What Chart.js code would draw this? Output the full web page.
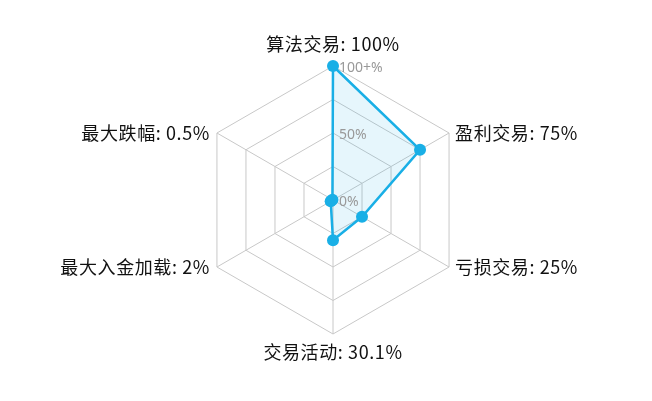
<!DOCTYPE html>
<html>
<head>
<meta charset="utf-8">
<script src="https://cdn.jsdelivr.net/npm/chart.js@4"></script>
<style>
  html, body { margin: 0; padding: 0; background: #fff; }
  #wrap { width: 652px; height: 401px; position: relative; }
</style>
</head>
<body>
<div id="wrap"><canvas id="c"></canvas></div>
<script>
const categories = ['算法交易', '盈利交易', '亏损交易', '交易活动', '最大入金加载', '最大跌幅'];
const values = [100, 75, 25, 30.1, 2, 0.5];
const valueLabels = ['100%', '75%', '25%', '30.1%', '2%', '0.5%'];
const tickValues = [0, 50, 100];
const tickLabels = ['0%', '50%', '100+%'];

const labelFont = '18px "Noto Sans CJK SC", "Noto Sans", sans-serif';
const tickFont = '14px "Noto Sans", "Noto Sans CJK SC", sans-serif';

const labelPlugin = {
  id: 'customLabels',
  afterDraw(chart) {
    const s = chart.scales.r;
    const ctx = chart.ctx;
    ctx.save();
    // tick labels
    ctx.font = tickFont;
    ctx.fillStyle = '#999999';
    ctx.textAlign = 'left';
    ctx.textBaseline = 'middle';
    tickValues.forEach((v, i) => {
      const d = s.getDistanceFromCenterForValue(v);
      ctx.fillText(tickLabels[i], s.xCenter + 6, s.yCenter - d + 2);
    });
    // point labels
    ctx.font = labelFont;
    if ('letterSpacing' in ctx) ctx.letterSpacing = '0.6px';
    ctx.fillStyle = '#111111';
    categories.forEach((c, i) => {
      const p = s.getPointPosition(i, s.drawingArea);
      const text = c + ': ' + valueLabels[i];
      const dx = p.x - s.xCenter;
      const dy = p.y - s.yCenter;
      let x = p.x, y = p.y;
      if (Math.abs(dx) < 1) {
        ctx.textAlign = 'center';
        y = dy < 0 ? p.y - 22 : p.y + 18;
      } else if (dx > 0) {
        ctx.textAlign = 'left';
        x = p.x + 6;
      } else {
        ctx.textAlign = 'right';
        x = p.x - 7;
      }
      ctx.fillText(text, x, y);
    });
    ctx.restore();
  }
};

new Chart(document.getElementById('c'), {
  type: 'radar',
  data: {
    labels: categories,
    datasets: [{
      data: values,
      borderColor: '#19afe6',
      backgroundColor: 'rgba(25,175,230,0.11)',
      borderWidth: 2.5,
      fill: true,
      pointRadius: 6,
      pointHoverRadius: 6,
      pointBackgroundColor: '#19afe6',
      pointBorderColor: '#19afe6',
      pointBorderWidth: 0
    }]
  },
  options: {
    responsive: true,
    maintainAspectRatio: false,
    animation: false,
    layout: { padding: { top: 66, bottom: 66, left: 14, right: 0 } },
    plugins: { legend: { display: false }, tooltip: { enabled: false } },
    elements: { line: { tension: 0 } },
    scales: {
      r: {
        min: 0,
        max: 100,
        ticks: { stepSize: 25, display: false },
        grid: { color: '#c8c8c8', lineWidth: 1 },
        angleLines: { color: '#c8c8c8', lineWidth: 1 },
        pointLabels: { display: false }
      }
    }
  },
  plugins: [labelPlugin]
});
</script>
</body>
</html>
